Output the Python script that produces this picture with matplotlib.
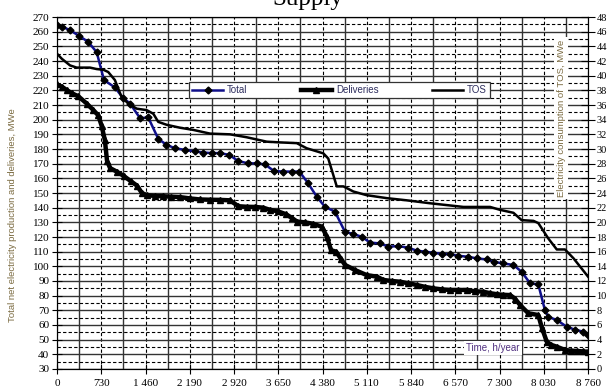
import matplotlib
matplotlib.use("Agg")
import matplotlib.pyplot as plt
from matplotlib.lines import Line2D
from matplotlib.ticker import MultipleLocator, FixedLocator

# hours of the year (duration curve) and MWe values
t_total = [0, 80, 215, 370, 515, 655, 775, 955, 1085, 1205,
           1370, 1505, 1670, 1800, 1945, 2110, 2275, 2415, 2550, 2690,
           2840, 2990, 3155, 3295, 3430, 3580, 3735, 3870, 4000, 4145,
           4285, 4420, 4585, 4750, 4890, 5025, 5165, 5330, 5465, 5630,
           5795, 5935, 6070, 6210, 6345, 6485, 6620, 6785, 6925, 7090,
           7210, 7365, 7530, 7665, 7805, 7940, 8050, 8105, 8245, 8410,
           8545, 8685, 8760]
total = [264.5, 263.5, 261, 257, 253, 246, 227, 222, 215, 211,
         201, 201.5, 187, 183, 180.5, 179.4, 178.3, 177.6, 177.2, 177.2,
         176, 171.8, 170.2, 170.2, 169.5, 165, 164.6, 164.6, 164.6, 156.5,
         147.5, 140.6, 137.3, 123.6, 122, 120.2, 116.2, 115.6, 113.4, 113.8,
         112.7, 110.7, 110, 109.3, 108.4, 108.2, 107.2, 106.5, 105.4, 104.7,
         103, 102, 100.9, 96.3, 88.4, 87.7, 70, 65.5, 63.4, 58.8,
         56.8, 55.4, 53.5]

t_deliv = [0, 80, 160, 245, 350, 490, 600, 680, 735, 790,
           825, 875, 990, 1105, 1220, 1320, 1400, 1485, 1615, 1750,
           1880, 2030, 2195, 2360, 2525, 2690, 2855, 2990, 3130, 3265,
           3400, 3515, 3645, 3780, 3875, 3960, 4090, 4225, 4370, 4455,
           4520, 4605, 4685, 4750, 4915, 5110, 5275, 5385, 5525, 5660,
           5790, 5935, 6070, 6210, 6345, 6485, 6615, 6760, 6895, 7030,
           7145, 7255, 7360, 7475, 7555, 7640, 7775, 7940, 8000, 8080,
           8150, 8245, 8380, 8480, 8575, 8675, 8760]
deliv = [224, 222.5, 220.2, 218, 216, 211, 206.5, 203, 196, 186,
         172, 167, 164.5, 161.5, 158, 155, 150, 148.5, 148, 147.8,
         147.5, 147.2, 146.3, 145.6, 145.4, 145.3, 145, 141, 140.6, 140.5,
         140, 138.5, 137.5, 135.5, 133, 130.5, 130, 129, 127, 120,
         111, 110, 105, 101, 97.5, 94, 93, 90.7, 90, 89.5,
         88.5, 87.3, 86, 85, 84.3, 83.9, 83.9, 83.9, 83, 82.7,
         81.7, 81, 80.6, 80.4, 78, 73.6, 68, 66.8, 58, 48.6,
         46.5, 45.2, 43, 42.5, 42.3, 42, 41.8]

t_tos = [0, 80, 215, 325, 545, 655, 765, 845, 955, 1065,
         1175, 1315, 1480, 1590, 1670, 1810, 2030, 2250, 2525, 2855,
         3130, 3460, 3680, 3955, 4120, 4395, 4475, 4560, 4615, 4725,
         4890, 5110, 5440, 5770, 6155, 6705, 7145, 7310, 7530, 7665,
         7860, 7940, 8105, 8245, 8380, 8520, 8655, 8760]
tos = [43.0, 42.3, 41.4, 41.1, 41.1, 40.9, 40.8, 40.5, 39.4, 37.1,
       36.2, 35.5, 35.3, 34.8, 33.7, 33.3, 32.9, 32.6, 32.1, 32.0,
       31.6, 31.0, 30.9, 30.8, 30.1, 29.4, 28.7, 26.4, 24.9, 24.9,
       24.2, 23.7, 23.3, 23.0, 22.6, 22.1, 22.1, 21.7, 21.3, 20.3,
       20.2, 19.9, 17.8, 16.3, 16.3, 15.1, 13.7, 12.6]

x_ticks = list(range(0, 8761, 730))
x_labels = [f"{v:,}".replace(",", " ") for v in x_ticks]

label_col = "#7a6a40"

fig = plt.figure(figsize=(6.08, 3.91), dpi=100)
ax = fig.add_axes([57/608, 1 - 369/391, 531/608, 352/391])
ax2 = ax.twinx()

ax.set_xlim(0, 8760)
ax.set_ylim(30, 270)
ax2.set_ylim(0, 48)

# grid: dashed at the labelled hours / 5 MWe offsets, solid in between / at 10s
ax.xaxis.set_major_locator(FixedLocator(x_ticks))
ax.xaxis.set_minor_locator(FixedLocator(list(range(365, 8760, 730))))
ax.yaxis.set_major_locator(MultipleLocator(10))
ax.yaxis.set_minor_locator(MultipleLocator(5))
ax.grid(which="major", axis="x", color="black", lw=0.8, ls=(0, (3, 2)))
ax.grid(which="minor", axis="x", color="#333333", lw=1.0, ls="-")
ax.grid(which="major", axis="y", color="#333333", lw=1.0, ls="-")
ax.grid(which="minor", axis="y", color="black", lw=0.8, ls=(0, (3, 2)))
ax.set_axisbelow(True)

ax.set_xticklabels(x_labels)
ax.tick_params(which="minor", length=0)
ax.tick_params(axis="x", which="major", direction="inout", length=7, pad=4,
               labelsize=8)
ax.tick_params(axis="y", which="major", direction="inout", length=7, pad=2,
               labelsize=8)
ax2.yaxis.set_major_locator(MultipleLocator(2))
ax2.tick_params(axis="y", direction="inout", length=10, pad=1, labelsize=7.5)
for lab in ax.get_xticklabels() + ax.get_yticklabels() + ax2.get_yticklabels():
    lab.set_fontfamily("Liberation Serif")

ax.plot(t_deliv, deliv, color="black", lw=3.2, marker="^", ms=5, zorder=3)
ax.plot(t_total, total, color="#10108a", lw=1.8, marker="D", ms=3.5,
        mfc="black", mec="black", zorder=4)
ax2.plot(t_tos, tos, color="black", lw=1.8, zorder=3)

handles = [
    Line2D([], [], color="#10108a", lw=1.8, marker="D", ms=3.5,
           mfc="black", mec="black"),
    Line2D([], [], color="black", lw=3.2, marker="^", ms=5),
    Line2D([], [], color="black", lw=1.8),
]
leg = ax2.legend(handles, ["Total", "Deliveries", "TOS"], ncol=3,
                 loc="center", bbox_to_anchor=(339.5/608, 1 - 90/391),
                 bbox_transform=fig.transFigure, frameon=True, fancybox=False,
                 framealpha=1, edgecolor="#333333", borderpad=0.3,
                 handlelength=3.2, columnspacing=5.5, handletextpad=0.4,
                 prop={"family": "Liberation Sans", "size": 7})
leg.get_frame().set_linewidth(0.9)
for txt in leg.get_texts():
    txt.set_color("#303060")

fig.text(13/608, 1 - 215/391,
         "Total net electricity production and deliveries, MWe",
         rotation=90, ha="center", va="center", fontsize=6.8,
         family="Liberation Sans", color=label_col)
ax2.text(561/608, 1 - 118/391, "Electricity consumption of TOS, MWe",
         transform=fig.transFigure, rotation=90, ha="center", va="center",
         fontsize=6.8, family="Liberation Sans", color=label_col, zorder=6,
         bbox=dict(facecolor="white", edgecolor="none", pad=2))
ax2.text(493/608, 1 - 348/391, "Time, h/year", transform=fig.transFigure,
         ha="center", va="center", fontsize=7, family="Liberation Sans",
         color="#503080", zorder=6,
         bbox=dict(facecolor="white", edgecolor="none", pad=1.5))

# the title is cropped at the top edge in the reference
fig.text(308/608, 1 - 5/391, "Supply", ha="center", va="baseline",
         fontsize=18, family="Liberation Serif")

fig.savefig("out.png", dpi=100)
